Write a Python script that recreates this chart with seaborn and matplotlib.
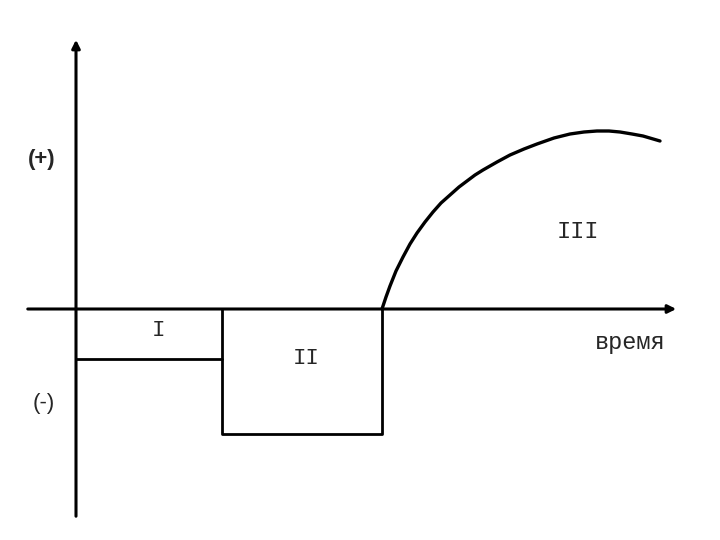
import numpy as np
import pandas as pd
import matplotlib.pyplot as plt
import seaborn as sns

# ступенчатая часть (фазы I и II)
faza1_t = [0, 146]
faza1_y = [-50, -50]
faza2_t = [146, 146, 306, 306]
faza2_y = [0, -125, -125, 0]

# кривая фазы III
faza3_t = [306, 310, 314, 320, 327, 334, 341, 349, 357, 365, 374, 383, 391, 399, 407,
           414, 421, 434, 448, 461, 478, 494, 508, 521, 533, 544, 556, 567, 584]
faza3_y = [0, 12, 23, 38, 52, 65, 76, 87, 97, 106, 114, 122, 128, 134, 139,
           143, 147, 154, 160, 165, 171, 175, 177, 178, 178, 177, 175, 173, 168]

sns.set_style("white")

fig = plt.figure(figsize=(7.2, 5.4), dpi=100)
ax = fig.add_axes([0, 0, 1, 1])

sns.lineplot(x=faza1_t, y=faza1_y, sort=False, estimator=None, color='black', linewidth=2.0, ax=ax)
sns.lineplot(x=faza2_t, y=faza2_y, sort=False, estimator=None, color='black', linewidth=2.0, ax=ax)
sns.lineplot(x=faza3_t, y=faza3_y, sort=False, estimator=None, color='black', linewidth=2.4, ax=ax)

# оси со стрелками
ax.annotate('', xy=(0, 272), xytext=(0, -210),
            arrowprops=dict(arrowstyle='-|>', color='black', lw=2.2, mutation_scale=12))
ax.annotate('', xy=(603, 0), xytext=(-51, 0),
            arrowprops=dict(arrowstyle='-|>', color='black', lw=2.2, mutation_scale=12))

mono = 'Liberation Mono'
ax.text(-34, 149, '(+)', fontsize=16, fontweight='bold', family='Liberation Sans', ha='center', va='center')
ax.text(-32, -94, '(-)', fontsize=16, family='Liberation Sans', ha='center', va='center')
ax.text(82, -22, 'I', fontsize=16, family=mono, ha='center', va='center')
ax.text(230, -49, 'II', fontsize=16, family=mono, ha='center', va='center')
ax.text(502, 77, 'III', fontsize=17, family=mono, ha='center', va='center')
ax.text(554, -33, 'время', fontsize=17, family=mono, ha='center', va='center')

ax.set_xlim(-76, 644)
ax.set_ylim(-231, 309)
ax.axis('off')

plt.savefig('out.png', dpi=100)
